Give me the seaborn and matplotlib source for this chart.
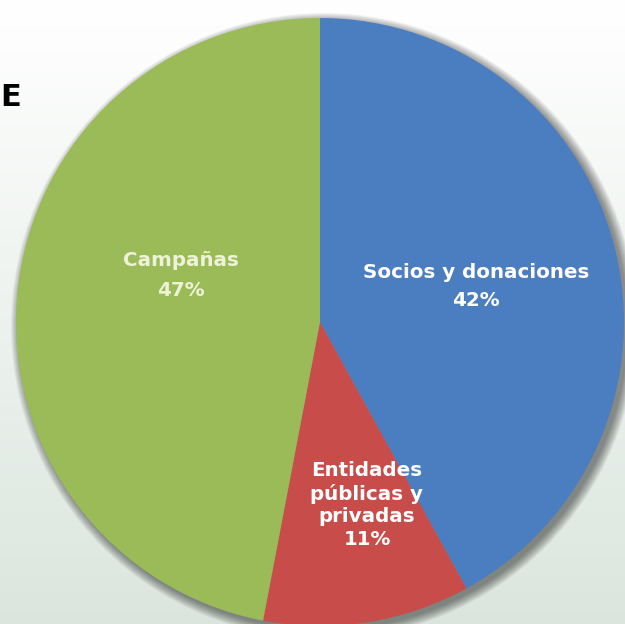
import numpy as np
import matplotlib
matplotlib.use("Agg")
import matplotlib.pyplot as plt
import seaborn as sns
from matplotlib.patches import Circle

categories = ["Socios y donaciones", "Entidades\npúblicas y\nprivadas", "Campañas"]
values = [42, 11, 47]
pct_labels = ["42%", "11%", "47%"]
colors = ["#4a7ec0", "#c84d4a", "#9bbb59"]

sns.set_theme(style="white")
plt.rcParams['font.family'] = ['DejaVu Sans']

W, H = 625, 624
fig = plt.figure(figsize=(W / 100, H / 100), dpi=100)
ax = fig.add_axes([0, 0, 1, 1])

# background gradient (white at top to pale green-grey at bottom)
grad = np.linspace(0, 1, 256).reshape(-1, 1)
top = np.array([1.0, 1.0, 1.0])
bot = np.array([0.86, 0.90, 0.87])
img = top * (1 - grad[..., None]) + bot * grad[..., None]
ax.imshow(img, extent=[0, W, 0, H], aspect='auto', zorder=0, origin='upper')

cx, cy, r = 320, H - 322, 304

# soft shadow, offset towards lower right
for i in range(10):
    ax.add_patch(Circle((cx + 4, cy - 4), r + i * 1.0, color='black',
                        alpha=0.05, lw=0, zorder=1))

ax.pie(values, colors=colors, startangle=90, counterclock=False,
       center=(cx, cy), radius=r, frame=True,
       wedgeprops=dict(linewidth=0, antialiased=True, zorder=2))
ax.set_xlim(0, W)
ax.set_ylim(0, H)
ax.set_aspect('equal')
ax.axis('off')

fs = 14.3
txt = dict(color='white', fontweight='bold', ha='center', va='center',
           fontsize=fs, zorder=5, linespacing=1.25)
ax.text(476, H - 272, categories[0], **txt)
ax.text(476, H - 300, pct_labels[0], **txt)
ax.text(367, H - 505, categories[1] + "\n" + pct_labels[1], **txt)
ax.text(181, H - 261, categories[2], color='#eef3d8', fontweight='bold',
        ha='center', va='center', fontsize=fs, zorder=5)
ax.text(181, H - 290, pct_labels[2], color='#eef3d8', fontweight='bold',
        ha='center', va='center', fontsize=fs, zorder=5)

ax.text(0, H - 97, "E", color='black', fontweight='bold', fontsize=22,
        ha='left', va='center', zorder=5)

fig.savefig("out.png", dpi=100)
